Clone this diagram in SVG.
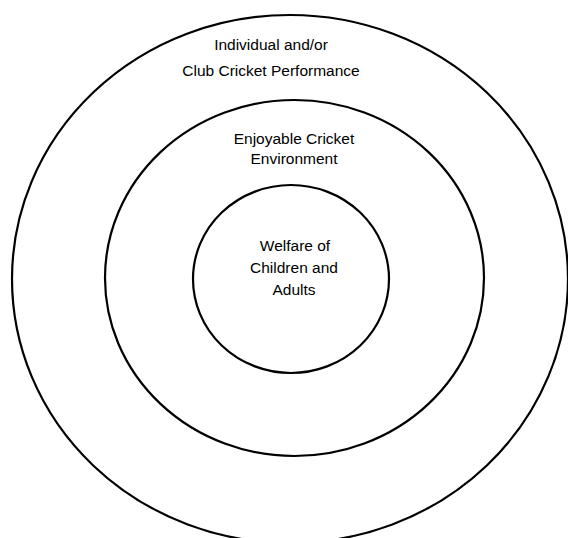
<svg xmlns="http://www.w3.org/2000/svg" width="568" height="538" viewBox="0 0 568 538">
<style>
.ring{fill:none;stroke:#000;stroke-width:2.2}
.lbl{font-family:"Liberation Sans",Arial,sans-serif;font-size:15.5px;fill:#000;text-anchor:middle}
</style>
<rect width="568" height="538" fill="#fff"/>
<g id="outer">
<ellipse class="ring" cx="290" cy="279" rx="278" ry="264"/>
<text class="lbl" x="271" y="50">Individual and/or</text>
<text class="lbl" x="271" y="76">Club Cricket Performance</text>
</g>
<g id="middle">
<ellipse class="ring" cx="294.5" cy="278" rx="189.5" ry="178"/>
<text class="lbl" x="294" y="144">Enjoyable Cricket</text>
<text class="lbl" x="294" y="164">Environment</text>
</g>
<g id="inner">
<ellipse class="ring" cx="291" cy="279" rx="98" ry="94"/>
<text class="lbl" x="295" y="251">Welfare of</text>
<text class="lbl" x="294" y="273">Children and</text>
<text class="lbl" x="294" y="295">Adults</text>
</g>
<g id="connectors"/>
</svg>
